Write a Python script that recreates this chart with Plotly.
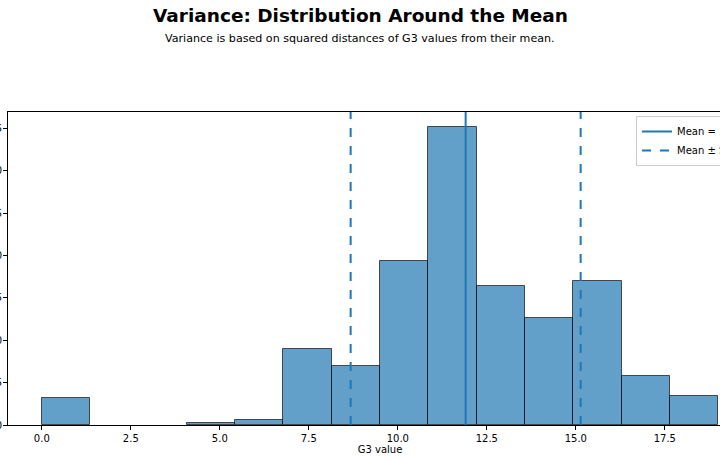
import numpy as np
import plotly.graph_objects as go

# G3 grade values and how many students have each
g3_values = [0, 1, 5, 6, 7, 8, 9, 10, 11, 12, 13, 14, 15, 16, 17, 18, 19]
g3_counts = [15, 1, 1, 3, 10, 35, 35, 97, 104, 72, 82, 63, 49, 36, 29, 15, 2]
n_bins = 14
x_ticks = [0.0, 2.5, 5.0, 7.5, 10.0, 12.5, 15.0, 17.5]
y_ticks = [0, 25, 50, 75, 100, 125, 150, 175]

vals = np.array(g3_values, dtype=float)
cnts = np.array(g3_counts, dtype=float)
counts, edges = np.histogram(vals, bins=n_bins, range=(vals.min(), vals.max()), weights=cnts)
centers = (edges[:-1] + edges[1:]) / 2
widths = np.diff(edges)
shown = counts > 0

mean = float((vals * cnts).sum() / cnts.sum())
sd = float(np.sqrt(((vals - mean) ** 2 * cnts).sum() / (cnts.sum() - 1)))

xspan = vals.max() - vals.min()
xr = [vals.min() - 0.05 * xspan, vals.max() + 0.05 * xspan]
yr = [0, counts.max() * 1.05]

fig = go.Figure()
fig.add_trace(go.Bar(
    x=centers[shown], y=counts[shown], width=widths[shown],
    marker=dict(color="rgba(31,119,180,0.7)", line=dict(color="rgba(0,0,0,0.65)", width=1)),
    showlegend=False, hoverinfo="x+y",
))
fig.add_trace(go.Scatter(
    x=[mean, mean], y=yr, mode="lines",
    line=dict(color="#1f77b4", width=2),
    name=f"Mean = {mean:.2f}",
))
fig.add_trace(go.Scatter(
    x=[mean - sd, mean - sd, None, mean + sd, mean + sd],
    y=[yr[0], yr[1], None, yr[0], yr[1]], mode="lines",
    line=dict(color="#1f77b4", width=2, dash="dash"),
    name="Mean ± SD",
))

W, H = 780, 460
ml, mr, mt, mb = 8, 28, 112, 35
pw = W - ml - mr
ph = H - mt - mb

fig.update_layout(
    width=W, height=H,
    margin=dict(l=ml, r=mr, t=mt, b=mb, autoexpand=False),
    plot_bgcolor="white", paper_bgcolor="white",
    bargap=0,
    font=dict(family="DejaVu Sans", size=10, color="black"),
    showlegend=True,
    legend=dict(
        x=(636 - ml) / pw, y=1 - 4 / ph, xanchor="left", yanchor="top",
        bordercolor="#cccccc", borderwidth=1, bgcolor="rgba(255,255,255,0.8)",
        font=dict(size=10), tracegroupgap=0, itemwidth=30,
    ),
    annotations=[
        dict(text="<b>Variance: Distribution Around the Mean</b>", xref="paper", yref="paper",
             x=(360 - ml) / pw, y=1 + (112 - 15) / ph, xanchor="center", yanchor="middle",
             showarrow=False, font=dict(size=18.5, family="DejaVu Sans")),
        dict(text="Variance is based on squared distances of G3 values from their mean.",
             xref="paper", yref="paper",
             x=(360 - ml) / pw, y=1 + (112 - 39) / ph, xanchor="center", yanchor="middle",
             showarrow=False, font=dict(size=11.1, family="DejaVu Sans")),
    ],
)
fig.update_xaxes(
    range=xr, tickvals=x_ticks, ticktext=[f"{t:.1f}" for t in x_ticks],
    ticks="outside", ticklen=4, tickcolor="black",
    showline=True, linecolor="black", linewidth=1, mirror=True,
    showgrid=False, zeroline=False,
    title=dict(text="G3 value", font=dict(size=10), standoff=2),
)
fig.update_yaxes(
    range=yr, tickvals=y_ticks,
    ticks="outside", ticklen=4, tickcolor="black",
    showline=True, linecolor="black", linewidth=1, mirror=True,
    showgrid=False, zeroline=False, ticklabelstandoff=-1,
)

fig.write_html("out.html")
